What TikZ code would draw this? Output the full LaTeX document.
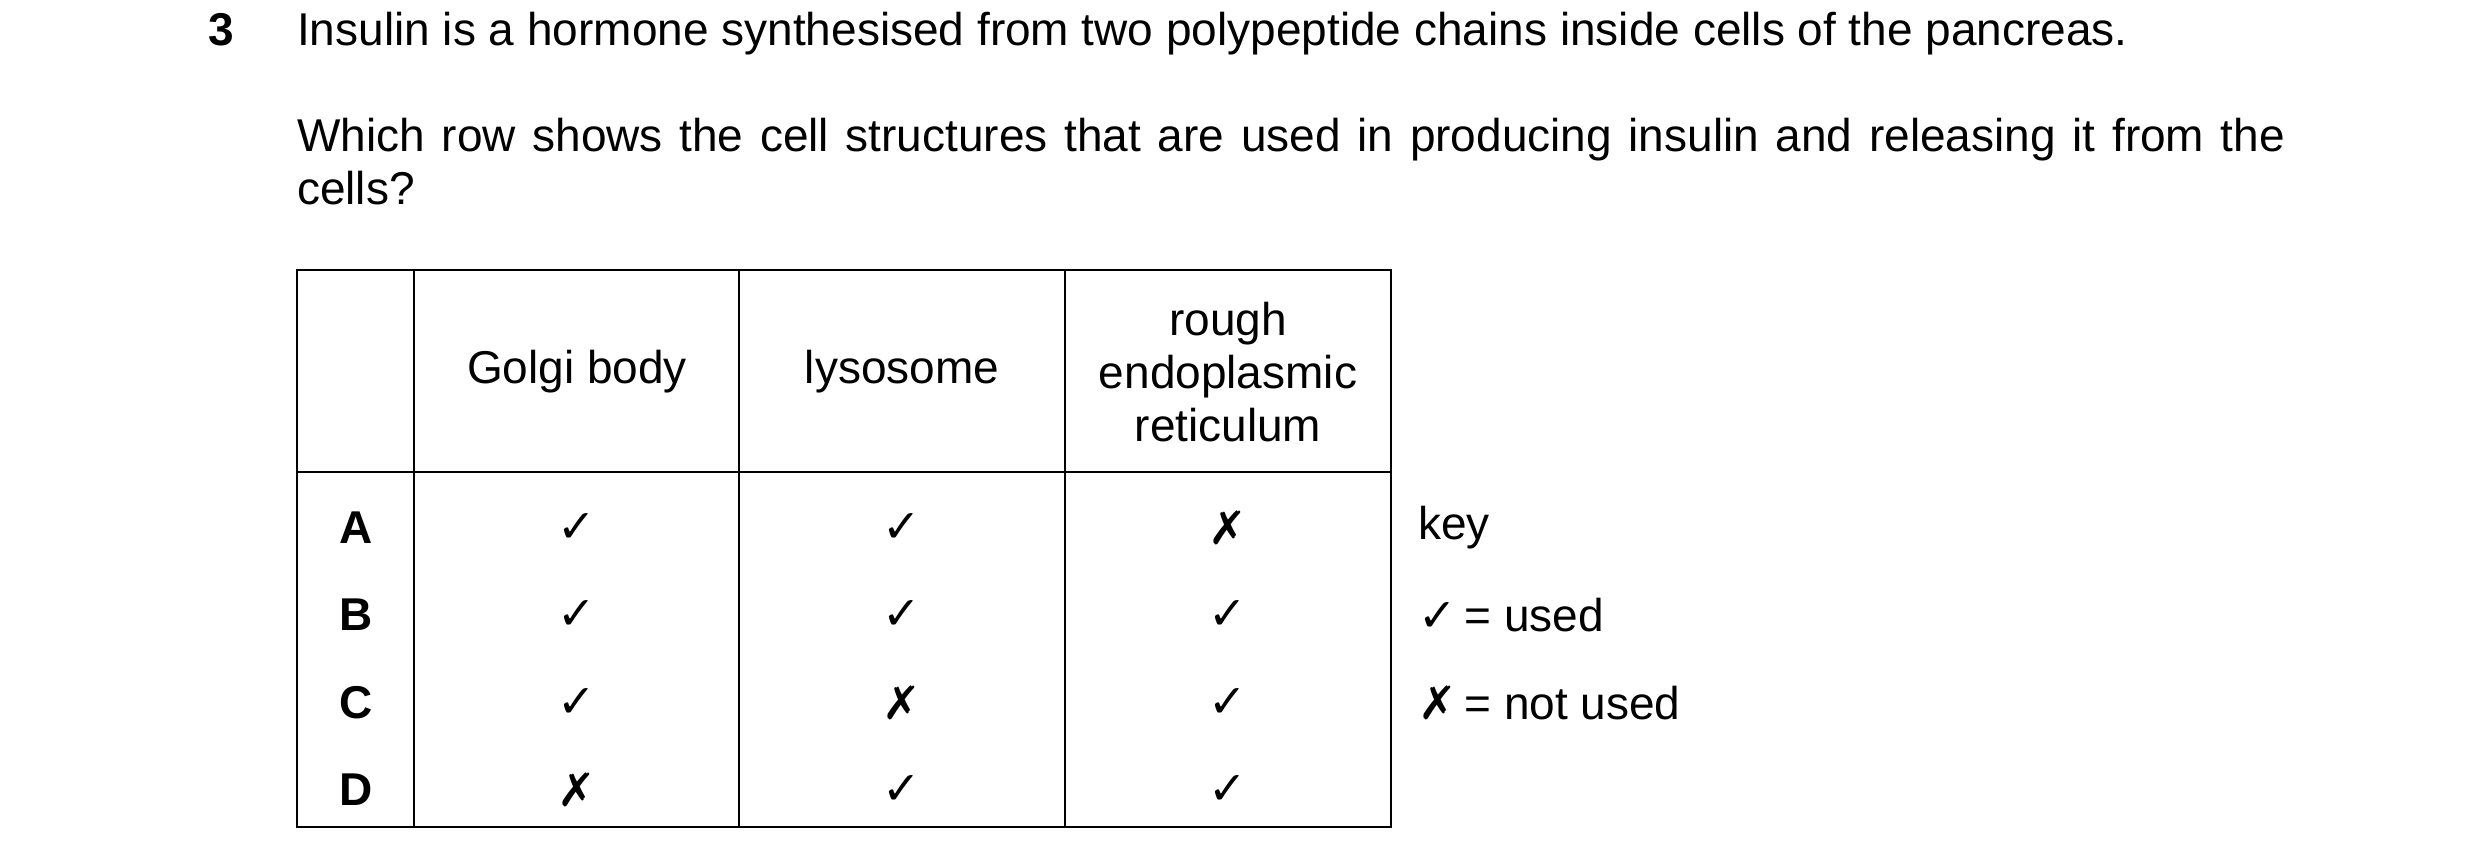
\documentclass[tikz,border=0pt]{standalone}
\usepackage{fontspec}
\setmainfont{Liberation Sans}
\newfontfamily\symf{DejaVu Sans}
\begin{document}
\begin{tikzpicture}[x=1pt,y=-1pt,
  txt/.style={inner sep=0pt,font=\fontsize{46}{53}\selectfont},
  cell/.style={txt,anchor=center},
  lab/.style={cell,font=\fontsize{46}{53}\selectfont\bfseries},
  mk/.style={cell,font=\fontsize{46}{53}\selectfont\symf\bfseries},
  grid/.style={line width=2pt}]
\useasboundingbox (0,0) rectangle (2480,864);
\node[txt,anchor=base west,font=\fontsize{46}{53}\selectfont\bfseries] (num) at (208,46) {3};
\node[txt,anchor=base west] (l1) at (297,46) {Insulin is a hormone synthesised from two polypeptide chains inside cells of the pancreas.};
\node[txt,anchor=north west,text width=1988pt,align=justify] (l2) at (297,118) {Which row shows the cell structures that are used in producing insulin and releasing it from the cells?};
\draw[grid] (297,270) rectangle (1391,827);
\draw[grid] (297,472) -- (1391,472);
\foreach \x in {414,739,1065} \draw[grid] (\x,270) -- (\x,827);
\node[cell] (h1) at (577,372) {Golgi body};
\node[cell] (h2) at (902,372) {lysosome};
\node[cell,align=center] (h3) at (1228,372) {rough\\endoplasmic\\reticulum};
\foreach \r/\y/\a/\b/\c in {A/528/✓/✓/✗,B/615/✓/✓/✓,C/703/✓/✗/✓,D/790/✗/✓/✓}{
  \node[lab] (r\r) at (356,\y) {\r};
  \node[mk] (a\r) at (577,\y) {\a};
  \node[mk] (b\r) at (902,\y) {\b};
  \node[mk] (c\r) at (1228,\y) {\c};
}
\node[txt,anchor=west] (key) at (1418,528) {key};
\node[txt,anchor=west] (k1) at (1418,615) {{\symf\bfseries ✓}\,= used};
\node[txt,anchor=west] (k2) at (1418,703) {{\symf\bfseries ✗}\,= not used};
\end{tikzpicture}
\end{document}
